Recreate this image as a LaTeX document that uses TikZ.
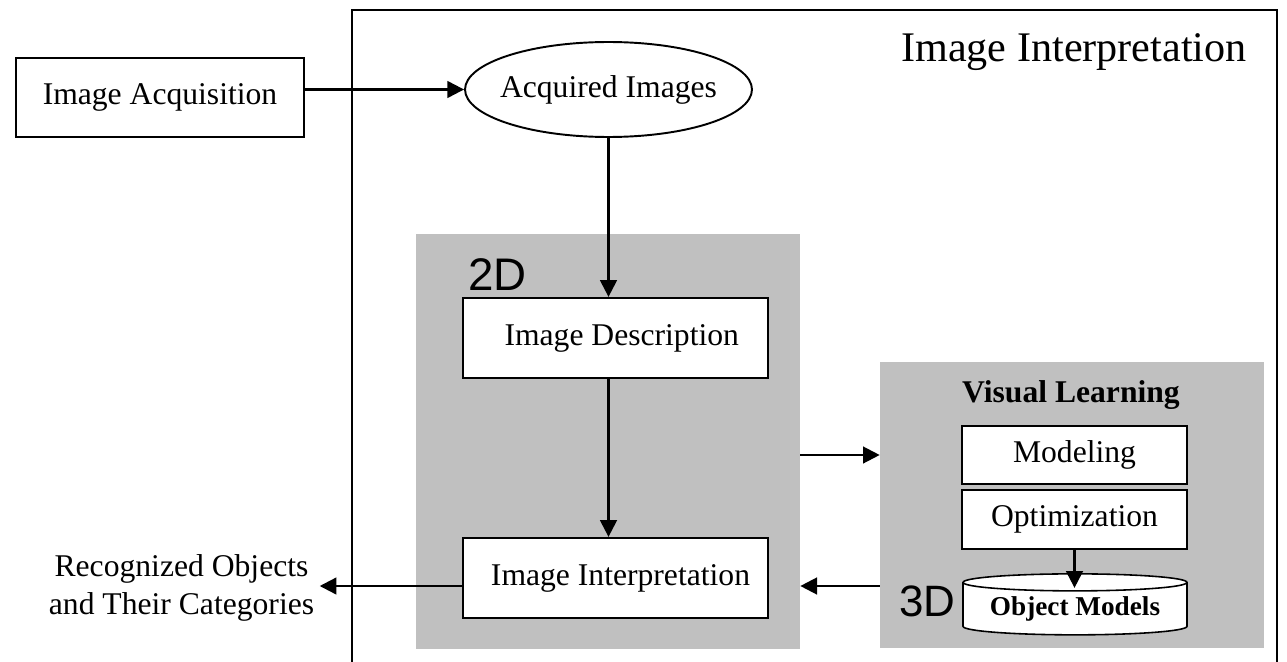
\documentclass[tikz,border=0pt]{standalone}
\usepackage{fontspec}
\setmainfont{Liberation Serif}
\newfontfamily\arialfont{Liberation Sans}
\usetikzlibrary{positioning, shapes.geometric, arrows.meta}
\definecolor{panelgray}{RGB}{192,192,192}

\begin{document}
\begin{tikzpicture}[x=0.02cm, y=-0.02cm,
        box/.style={rectangle, draw, line width=1.3pt, fill=white, inner sep=0pt, font=\fontsize{18}{21.6}\selectfont},
        panel/.style={rectangle, fill=panelgray, inner sep=0pt},
        arr/.style={line width=1.3pt, -{Triangle[length=9.5pt, width=9.5pt]}},
        dimlabel/.style={inner sep=0pt, anchor=base west}]
            \useasboundingbox (0,0) rectangle (1287,662);

            \node[panel, minimum width=7.68cm, minimum height=8.3cm] (panel2d) at (608,441.5) {};
            \node[panel, minimum width=7.68cm, minimum height=5.72cm] (panel3d) at (1072,505) {};
            \draw[line width=1.6pt] (352,662) -- (352,10) -- (1277,10) -- (1277,662);

            \node[anchor=base, font=\fontsize{24}{28}\selectfont] (title) at (1074,62) {Image Interpretation};
            \node[box, minimum width=5.76cm, minimum height=1.58cm] (acqbox) at (160,97.5) {Image Acquisition};
            \node[ellipse, draw, line width=1.1pt, inner xsep=-4pt, inner ysep=0pt, minimum width=5.74cm, minimum height=1.9cm, font=\fontsize{18}{21.6}\selectfont] (imgs) at (608.5,89.5) {Acquired Images};

            \node[dimlabel, font=\arialfont\fontsize{26}{30}\selectfont] (lbl2d) at (468,290) {2D};
            \node[box, minimum width=6.1cm, minimum height=1.6cm] (desc) at (615.5,338) {\hspace{0.25cm}Image Description};
            \node[box, minimum width=6.1cm, minimum height=1.6cm] (interp) at (615.5,578) {\hspace{0.2cm}Image Interpretation};

            \node[anchor=base, font=\bfseries\fontsize{18}{21.6}\selectfont] (vl) at (1071,402) {Visual Learning};
            \node[box, minimum width=4.5cm, minimum height=1.16cm] (model) at (1074.5,455) {Modeling};
            \node[box, minimum width=4.5cm, minimum height=1.18cm] (optim) at (1074.5,519.5) {Optimization};
            \node[cylinder, shape border rotate=90, draw, fill=white, line width=0.9pt, aspect=0.1, inner sep=0pt, minimum width=4.48cm, minimum height=1.22cm, font=\bfseries\fontsize{15.5}{18}\selectfont] (objmod) at (1075,609) {Object Models};
            \node[dimlabel, font=\arialfont\fontsize{25}{29}\selectfont] (lbl3d) at (899,616) {3D};

            \node[align=center, inner sep=3pt, font=\fontsize{18}{21.6}\selectfont] (recog) at (181.5,588) {Recognized Objects\\and Their Categories};

            \coordinate (outy) at (0,586);
            \draw[arr] (acqbox.east |- imgs.west) -- (imgs.west);
            \draw[arr] (imgs.south) -- (imgs.south |- desc.north);
            \draw[arr] (imgs.south |- desc.south) -- (imgs.south |- interp.north);
            \draw[arr] (panel2d.east |- model.center) -- (panel3d.west |- model.center);
            \draw[arr] (panel3d.west |- outy) -- (panel2d.east |- outy);
            \draw[arr] (interp.west |- outy) -- (recog.east |- outy);
            \draw[arr] (optim.south) -- ([yshift=-0.11cm]optim.south |- objmod.before top);
        \end{tikzpicture}
\end{document}
